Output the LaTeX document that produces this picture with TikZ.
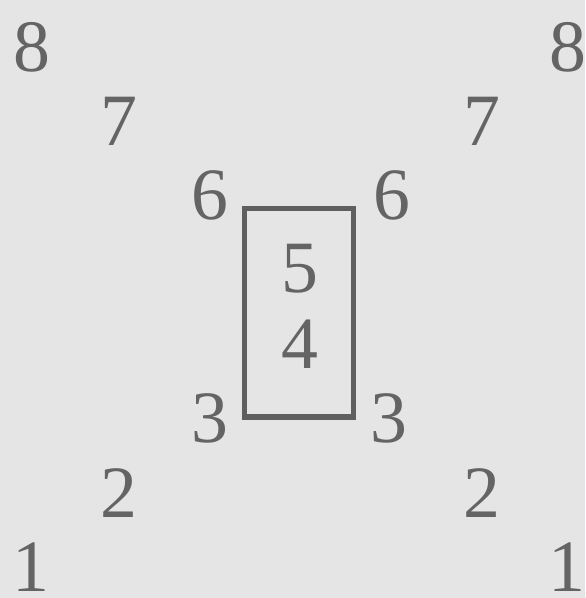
\documentclass[tikz,border=0pt]{standalone}
\usepackage{fontspec}
\setmainfont{Liberation Serif}
\usepackage{tikz}
\definecolor{inkgray}{RGB}{100,100,100}
\definecolor{boxgray}{RGB}{95,95,95}
\definecolor{papergray}{RGB}{229,229,229}

\begin{document}
\begin{tikzpicture}[x=0.03cm, y=-0.03cm]
  \useasboundingbox (0,0) rectangle (585,598);
  \fill[papergray] (0,0) rectangle (585,598);
  \tikzset{digit/.style={inkgray, inner sep=0pt, font=\fontsize{63}{70}\selectfont}}
  \foreach \n/\xl/\xr/\y in {8/32/568/47, 7/119/482/121, 6/210/392/195,
                             3/210/389/418, 2/119/482/493, 1/31/567/567}{
    \node[digit] (l\n) at (\xl,\y) {\n};
    \node[digit] (r\n) at (\xr,\y) {\n};
  }
  \draw[boxgray, line width=5pt] (244.5,208.5) rectangle (353.5,417);
  \node[digit] (m5) at (300,269) {5};
  \node[digit] (m4) at (300,344) {4};
\end{tikzpicture}
\end{document}
